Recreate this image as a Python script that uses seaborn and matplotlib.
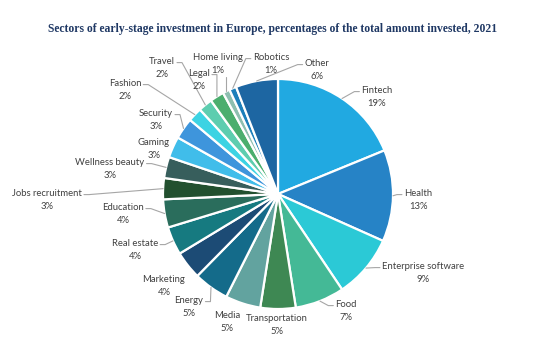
import matplotlib
matplotlib.use("Agg")
import matplotlib.pyplot as plt
import seaborn as sns
import numpy as np

sns.set_theme(style="white")
plt.rcParams["font.family"] = ["Lato", "DejaVu Sans"]

# Data (clockwise from 12 o'clock)
sectors = ["Fintech", "Health", "Enterprise software", "Food", "Transportation",
           "Media", "Energy", "Marketing", "Real estate", "Education",
           "Jobs recruitment", "Wellness beauty", "Gaming", "Security", "Fashion",
           "Travel", "Legal", "Home living", "Robotics", "Other"]
shares = [19, 13, 9, 7, 5, 5, 5, 4, 4, 4, 3, 3, 3, 3, 2, 2, 2, 1, 1, 6]

colors = ["#21A9E1", "#2683C6", "#2BC9D6", "#44B996", "#3E8853",
          "#62A39F", "#146B8A", "#1C4B75", "#167A80", "#2A6D5C",
          "#22502F", "#375E5C", "#40BDEA", "#3E95DC", "#3CD3E3",
          "#5DCDAF", "#4BAE6E", "#8DBFB0", "#1C7FBA", "#1D66A2"]

# label centres in pixels (image coords) and whether a leader line is drawn
label_px = [(377, 97), (418, 200), (423, 273), (346, 311), (277, 325),
            (227, 322), (189, 307), (164, 286), (135, 250), (123, 214),
            (47, 200), (110, 169), (154, 149), (156, 120), (125, 90),
            (162, 68), (199, 80), (218, 64), (271, 64), (317, 70)]
has_line = [True, True, True, True, False, False, True, False, True, True,
            True, True, False, True, True, True, True, True, True, True]

W, H = 559, 361
cx, cy, r = 278, 194, 115
half_gap = 6.3  # px between the two lines of a label and its centre

fig = plt.figure(figsize=(W / 100, H / 100), dpi=100)
ax = fig.add_axes([(cx - r) / W, (H - cy - r) / H, 2 * r / W, 2 * r / H])

wedges, _ = ax.pie(shares, colors=colors, startangle=90, counterclock=False,
                   radius=1, wedgeprops=dict(edgecolor="white", linewidth=1.6))
ax.set_xlim(-1, 1)
ax.set_ylim(-1, 1)
ax.set_aspect("equal")
ax.axis("off")


def to_data(px, py):
    return (px - cx) / r, (cy - py) / r


labels = []
for name, val, (px, py) in zip(sectors, shares, label_px):
    x, y = to_data(px, py - half_gap)
    t1 = ax.text(x, y, name, ha="center", va="center",
                 fontsize=6.8, color="#404040")
    x, y = to_data(px, py + half_gap)
    t2 = ax.text(x, y, f"{val}%", ha="center", va="center",
                 fontsize=6.8, color="#404040")
    labels.append((t1, t2))

fig.canvas.draw()
renderer = fig.canvas.get_renderer()
inv = ax.transData.inverted()

for w, (t1, t2), show in zip(wedges, labels, has_line):
    if not show:
        continue
    ang = np.deg2rad((w.theta1 + w.theta2) / 2)
    ex, ey = np.cos(ang), np.sin(ang)
    b1 = t1.get_window_extent(renderer)
    b2 = t2.get_window_extent(renderer)
    (x0, _), (x1, _) = inv.transform([[min(b1.x0, b2.x0), 0], [max(b1.x1, b2.x1), 0]])
    (_, n0), (_, n1) = inv.transform([[0, b1.y0], [0, b1.y1]])
    (_, p0), _ = inv.transform([[0, b2.y0], [0, b2.y1]])
    ty = n0 + (n1 - n0) * 0.4
    gap = 2 / r
    elbow = 5 / r
    if x0 - gap > ex:
        pts = [(ex, ey), (x0 - gap - elbow, ty), (x0 - gap, ty)]
    elif x1 + gap < ex:
        pts = [(ex, ey), (x1 + gap + elbow, ty), (x1 + gap, ty)]
    else:
        pts = [(ex, ey), (ex, p0 - gap)]
    xs, ys = zip(*pts)
    ax.plot(xs, ys, color="#A6A6A6", lw=0.8, clip_on=False)

fig.text(273 / W, 1 - 29 / H,
         "Sectors of early-stage investment in Europe, percentages of the total amount invested, 2021",
         ha="center", va="center", fontsize=8.4, fontweight="bold",
         color="#1F3864", family="Liberation Serif")

fig.savefig("out.png", dpi=100)
